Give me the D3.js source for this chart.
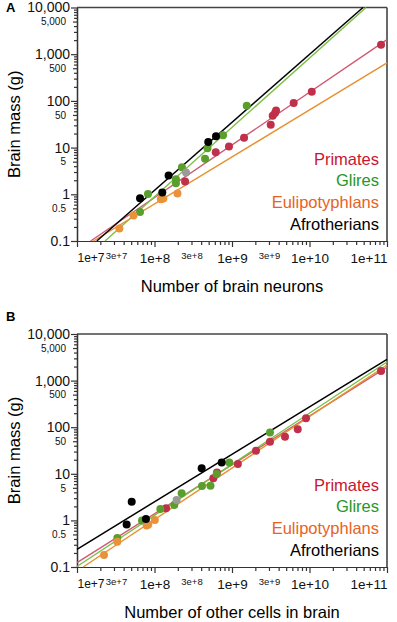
<!DOCTYPE html>
<html>
<head>
<meta charset="utf-8">
<script src="https://cdn.jsdelivr.net/npm/d3@7"></script>
<style>
  body { margin: 0; background: #fff; }
  svg { font-family: "Liberation Sans", Arial, Helvetica, sans-serif; }
</style>
</head>
<body>
<div id="chart"></div>
<script>
// ---- data: [cells, brain mass (g)] ----
const primatesNeurons = [[2.48e8,1.87],[6.17e8,8.0],[9.14e8,10.6],[1.43e9,16.2],[3.16e9,30.8],[3.35e9,48.1],[3.59e9,55.0],[3.70e9,62.5],[6.25e9,90.2],[1.07e10,157],[8.38e10,1585]];
const gliresNeurons = [[8.24e7,1.02],[6.5e7,0.42],[1.89e8,2.11],[1.89e8,1.73],[2.26e8,3.78],[4.49e8,5.75],[4.83e8,9.66],[7.66e8,18.4],[1.55e9,78.9]];
const eulipotyphlansNeurons = [[3.52e7,0.185],[5.36e7,0.35],[1.21e8,0.78],[1.30e8,0.81],[1.98e8,1.04]];
const afrotheriansNeurons = [[6.5e7,0.82],[1.26e8,1.09],[1.52e8,2.52],[4.94e8,13.1],[6.22e8,17.5]];
const otherNeurons = [[2.55e8,2.92]];

const primatesOther = [[1.41e8,1.82],[5.74e8,8.0],[6.4e8,10.6],[1.19e9,16.2],[2.04e9,31.3],[3.09e9,48.9],[4.83e9,62.5],[7.05e9,90.2],[9.02e9,155],[8.38e10,1607]];
const gliresOther = [[3.31e7,0.42],[6.9e7,0.99],[1.19e8,1.76],[1.80e8,2.14],[2.24e8,3.82],[4.10e8,5.47],[5.28e8,5.56],[6.35e8,9.9],[9.23e8,17.5],[3.09e9,76.9]];
const eulipotyphlansOther = [[2.23e7,0.18],[3.31e7,0.35],[7.93e7,0.78],[8.32e7,0.82],[1.01e8,1.02]];
const afrotheriansOther = [[4.37e7,0.82],[5.08e7,2.51],[7.76e7,1.07],[4.06e8,13.1],[7.36e8,17.5]];
const otherOther = [[1.93e8,2.74]];

// power-law fit lines, end points
const fitNeurons = {
  Primates: [[1.5e7,0.1],[1e11,2050]],
  Glires: [[2.3e7,0.1],[5.36e10,1e4]],
  Eulipotyphlans: [[1.63e7,0.1],[1e11,650]],
  Afrotherians: [[1.8e7,0.1],[4.9e10,1e4]]
};
const fitOther = {
  Primates: [[1e7,0.124],[1e11,1941]],
  Glires: [[1e7,0.1025],[1e11,2506]],
  Eulipotyphlans: [[1.2e7,0.1],[1e11,2163]],
  Afrotherians: [[1e7,0.24],[1e11,2864]]
};

const groups = ["Primates","Glires","Eulipotyphlans","Afrotherians"];
const legendColor = {Primates:"#c8162f", Glires:"#23972a", Eulipotyphlans:"#e8621e", Afrotherians:"#000000"};
const pointColor = {Primates:"#c0304a", Glires:"#5a9e2e", Eulipotyphlans:"#e8923a", Afrotherians:"#000000"};
const lineColor = {Primates:"#d05a72", Glires:"#7cbf45", Eulipotyphlans:"#e8902e", Afrotherians:"#000000"};

const yMajor = [0.1,1,10,100,1000,10000];
const yMinorLabeled = [0.5,5,50,500,5000];
const xMajor = [1e7,1e8,1e9,1e10,1e11];
const xMinorLabeled = [3e7,3e8,3e9];

const W = 397, H = 622;
const svg = d3.select("#chart").append("svg").attr("width", W).attr("height", H);

const x = d3.scaleLog().domain([1e7,1e11]).range([77,387]);

function minorTicks(lo, hi, skip) {
  const out = [];
  for (let e = lo; e < hi; e++) {
    for (let k = 2; k <= 9; k++) {
      const v = +(k * Math.pow(10, e)).toPrecision(3);
      if (!skip.some(s => Math.abs(s - v) / v < 1e-6)) out.push(v);
    }
  }
  return out;
}

function drawPanel(p) {
  const y = d3.scaleLog().domain([0.1,1e4]).range([p.bottom, p.top]);
  const g = svg.append("g");

  // frame: top and right
  g.append("line").attr("x1",77).attr("x2",387).attr("y1",p.top).attr("y2",p.top)
    .attr("stroke","#444").attr("stroke-width",1.6);
  g.append("line").attr("x1",387).attr("x2",387).attr("y1",p.top).attr("y2",p.bottom)
    .attr("stroke","#444").attr("stroke-width",1.6);

  // y axis
  const yAx = g.append("g").attr("transform","translate(77,0)");
  yAx.append("g").call(d3.axisLeft(y).tickValues(minorTicks(-1,4,yMinorLabeled)).tickSize(3).tickSizeOuter(0).tickFormat(""));
  yAx.append("g").call(d3.axisLeft(y).tickValues(yMinorLabeled).tickSize(4).tickPadding(7).tickSizeOuter(0).tickFormat(d3.format(",")))
    .selectAll("text").style("font-size","10px");
  yAx.append("g").call(d3.axisLeft(y).tickValues(yMajor).tickSize(6).tickPadding(1).tickSizeOuter(0).tickFormat(d3.format(",")))
    .selectAll("text").style("font-size","14px");
  yAx.selectAll("path,line").attr("stroke","#333").attr("stroke-width",1.2);

  // x axis
  const xAx = g.append("g").attr("transform",`translate(0,${p.bottom})`);
  xAx.append("g").call(d3.axisBottom(x).tickValues(minorTicks(7,11,xMinorLabeled)).tickSize(4).tickSizeOuter(0).tickFormat(""));
  xAx.append("g").call(d3.axisBottom(x).tickValues(xMinorLabeled).tickSize(4).tickPadding(7).tickSizeOuter(0).tickFormat(d3.format(".0e")))
    .selectAll("text").style("font-size","9.5px").attr("x", d => d === 3e7 ? 2 : 0);
  const xm = xAx.append("g").call(d3.axisBottom(x).tickValues(xMajor).tickSize(6).tickPadding(6).tickSizeOuter(0).tickFormat(d => "1e+" + Math.round(Math.log10(d))));
  xm.selectAll("text").style("font-size","13.5px");
  // first label pushed against the y axis, last one flush with the right border
  xm.selectAll("text").filter(d => d === 1e7).attr("text-anchor","start").attr("x",0)
    .style("font-size","12px");
  xm.selectAll("text").filter(d => d === 1e11).attr("text-anchor","end").attr("x",0);
  xAx.selectAll("path,line").attr("stroke","#333").attr("stroke-width",1.2);
  g.selectAll(".tick text").attr("fill","#111");

  // fit lines
  const line = d3.line().x(d => x(d[0])).y(d => y(d[1]));
  groups.forEach(k => {
    g.append("path").datum(p.fits[k]).attr("d", line)
      .attr("fill","none").attr("stroke", lineColor[k])
      .attr("stroke-width", k === "Afrotherians" ? 1.5 : 1.4);
  });

  // points
  groups.forEach(k => {
    g.append("g").selectAll("circle").data(p.points[k]).join("circle")
      .attr("cx", d => x(d[0])).attr("cy", d => y(d[1])).attr("r", 4)
      .attr("fill", pointColor[k]);
  });
  g.append("g").selectAll("circle").data(p.points.other).join("circle")
    .attr("cx", d => x(d[0])).attr("cy", d => y(d[1])).attr("r", 4)
    .attr("fill", "#9a9a9a");

  // legend
  groups.forEach((k, i) => {
    g.append("text").attr("x",379).attr("y", p.bottom - 11 - (3 - i) * 21.8)
      .attr("text-anchor","end").style("font-size","16.5px")
      .attr("fill", legendColor[k]).text(k);
  });

  // panel label and titles
  g.append("text").attr("x",6).attr("y",p.top + p.labelDy).style("font-size","13px")
    .style("font-weight","bold").text(p.label);
  g.append("text").attr("transform",`translate(20,${(p.top + p.bottom) / 2}) rotate(-90)`)
    .attr("text-anchor","middle").style("font-size","16.5px").text("Brain mass (g)");
  g.append("text").attr("x",232).attr("y",p.bottom + 51)
    .attr("text-anchor","middle").style("font-size","16.5px").text(p.title);
}

drawPanel({
  label: "A", labelDy: 4.5, top: 7.5, bottom: 241, title: "Number of brain neurons",
  points: {Primates: primatesNeurons, Glires: gliresNeurons, Eulipotyphlans: eulipotyphlansNeurons, Afrotherians: afrotheriansNeurons, other: otherNeurons},
  fits: fitNeurons
});
drawPanel({
  label: "B", labelDy: -13, top: 334, bottom: 567, title: "Number of other cells in brain",
  points: {Primates: primatesOther, Glires: gliresOther, Eulipotyphlans: eulipotyphlansOther, Afrotherians: afrotheriansOther, other: otherOther},
  fits: fitOther
});
</script>
</body>
</html>
